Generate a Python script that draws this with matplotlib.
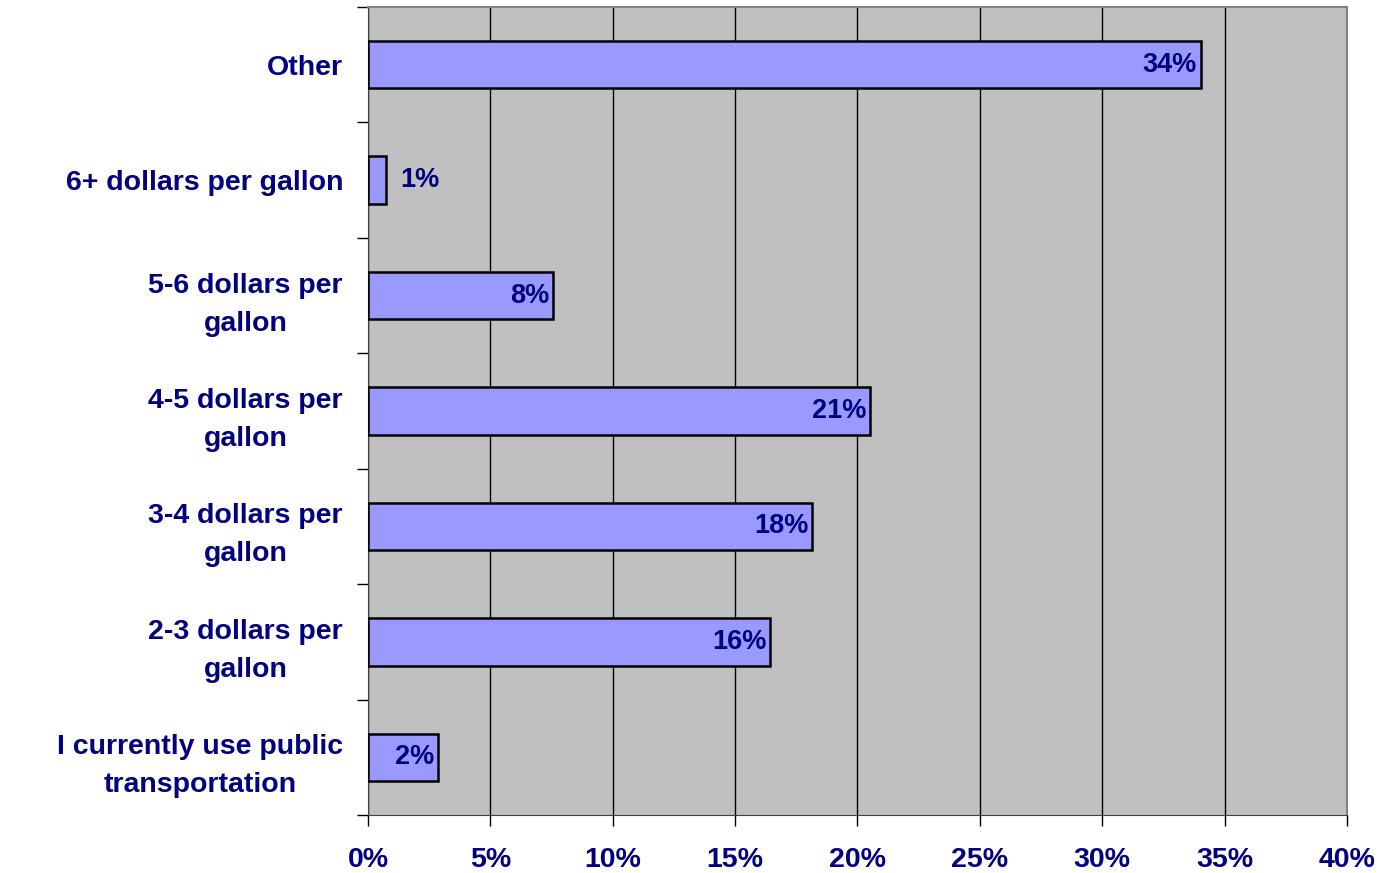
import matplotlib.pyplot as plt
import numpy as np

plt.rcParams['font.family'] = ['Liberation Sans', 'DejaVu Sans']

categories = ['I currently use public\ntransportation', '2-3 dollars per\ngallon',
              '3-4 dollars per\ngallon', '4-5 dollars per\ngallon',
              '5-6 dollars per\ngallon', '6+ dollars per gallon', 'Other']
values = [2.86, 16.44, 18.16, 20.53, 7.57, 0.74, 34.03]
value_labels = ['2%', '16%', '18%', '21%', '8%', '1%', '34%']
inside = [True, True, True, True, True, False, True]
xticks = [0, 5, 10, 15, 20, 25, 30, 35, 40]

navy = '#000080'

fig = plt.figure(figsize=(13.81, 8.73), dpi=100)
ax = fig.add_axes([368/1381, 1 - 815/873, (1347-368)/1381, (815-7)/873])
ax.set_facecolor('#C0C0C0')

y = np.arange(len(categories))
bars = ax.barh(y, values, height=0.41, color='#9999FF', edgecolor='black', linewidth=1.8, zorder=3)

for yi, v, lab, ins in zip(y, values, value_labels, inside):
    if ins:
        ax.annotate(lab, (v, yi), xytext=(-3, 0), textcoords='offset points',
                    ha='right', va='center', fontsize=19.5, fontweight='bold', color=navy, zorder=4)
    else:
        ax.annotate(lab, (v, yi), xytext=(10, 0), textcoords='offset points',
                    ha='left', va='center', fontsize=19.5, fontweight='bold', color=navy, zorder=4)

ax.set_xlim(0, 40)
ax.set_ylim(-0.5, len(categories) - 0.5)
ax.set_xticks(xticks)
ax.set_xticklabels([f'{t}%' for t in xticks])
ax.xaxis.grid(True, color='black', linewidth=1, zorder=1)
ax.set_axisbelow(True)

# boundary ticks on y, labels at the centres
ax.set_yticks(np.arange(len(categories) + 1) - 0.5)
ax.set_yticklabels([])
ax.set_yticks(y, minor=True)
ax.set_yticklabels(categories, minor=True, multialignment='center', linespacing=1.6)
ax.tick_params(axis='y', which='major', length=8, width=1, color='black')
ax.tick_params(axis='y', which='minor', length=0, pad=18, labelsize=20.5, labelcolor=navy)
ax.tick_params(axis='x', length=8, width=1, color='black', pad=15, labelsize=20.5, labelcolor=navy)
for t in ax.get_yticklabels(minor=True) + ax.get_xticklabels():
    t.set_fontweight('bold')

for s in ['top', 'right']:
    ax.spines[s].set_color('#808080')
    ax.spines[s].set_linewidth(1.5)
ax.spines['left'].set_color('#404040')
ax.spines['bottom'].set_color('#404040')

fig.savefig('out.png', dpi=100)
